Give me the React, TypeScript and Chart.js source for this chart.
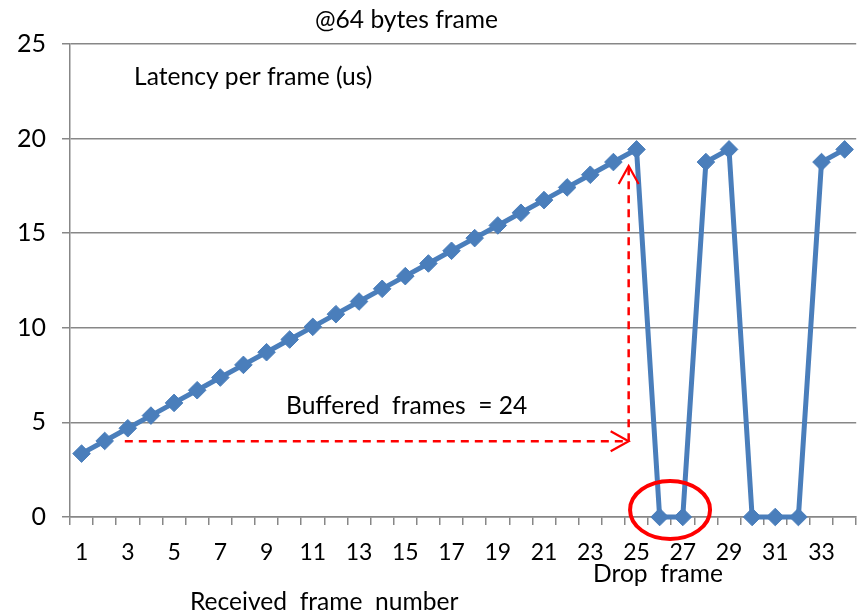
import { useEffect, useRef } from 'react';
import { Chart, registerables } from 'chart.js';

Chart.register(...registerables);

const frameNumbers: number[] = [
  1, 2, 3, 4, 5, 6, 7, 8, 9, 10, 11, 12, 13, 14, 15, 16, 17,
  18, 19, 20, 21, 22, 23, 24, 25, 26, 27, 28, 29, 30, 31, 32, 33, 34,
];
const latencyUs: number[] = [
  3.35, 4.02, 4.69, 5.36, 6.03, 6.7, 7.37, 8.04, 8.71, 9.38, 10.05, 10.72,
  11.39, 12.06, 12.73, 13.4, 14.07, 14.74, 15.41, 16.08, 16.75, 17.42, 18.09,
  18.76, 19.43, 0, 0, 18.76, 19.43, 0, 0, 0, 18.76, 19.43,
];
const yTickValues: number[] = [0, 5, 10, 15, 20, 25];

const chartTitle = '@64 bytes frame';
const yTitle = 'Latency per frame (us)';
const xTitle = 'Received  frame  number';
const bufferedLabel = 'Buffered  frames  = 24';
const dropLabel = 'Drop  frame';

// annotation anchors (in data units)
const arrowStartFrame = 3;
const arrowEndFrame = 24.66;
const arrowLevel = 4.0;
const arrowTopLevel = 18.55;
const dropCircleFrame = 26.45;
const dropCircleLevel = 0.37;

const FONT = 'Lato, "Open Sans", sans-serif';
const GRID = '#878787';
const LINE = '#4A7EBB';

const annotations = {
  id: 'annotations',
  afterDatasetsDraw(chart: any) {
    const ctx = chart.ctx as CanvasRenderingContext2D;
    const xs = chart.scales.x;
    const ys = chart.scales.y;
    const xPix = (f: number) => xs.getPixelForValue(f - 1);
    ctx.save();
    // dashed arrows
    ctx.strokeStyle = '#FF0000';
    ctx.lineWidth = 2.5;
    ctx.setLineDash([8, 6]);
    const x1 = xPix(arrowStartFrame) - 3;
    const x2 = xPix(arrowEndFrame);
    const yH = ys.getPixelForValue(arrowLevel);
    const yTop = ys.getPixelForValue(arrowTopLevel);
    ctx.beginPath();
    ctx.moveTo(x1, yH);
    ctx.lineTo(x2, yH);
    ctx.stroke();
    ctx.beginPath();
    ctx.moveTo(x2, yH);
    ctx.lineTo(x2, yTop);
    ctx.stroke();
    ctx.setLineDash([]);
    ctx.lineWidth = 2.2;
    ctx.beginPath();
    ctx.moveTo(x2 - 18, yH - 10);
    ctx.lineTo(x2, yH);
    ctx.lineTo(x2 - 18, yH + 10);
    ctx.stroke();
    ctx.beginPath();
    ctx.moveTo(x2 - 10, yTop + 18);
    ctx.lineTo(x2, yTop);
    ctx.lineTo(x2 + 10, yTop + 18);
    ctx.stroke();
    // ellipse
    ctx.lineWidth = 4;
    ctx.beginPath();
    ctx.ellipse(xPix(dropCircleFrame), ys.getPixelForValue(dropCircleLevel), 40, 29, 0, 0, Math.PI * 2);
    ctx.stroke();
    // texts
    ctx.fillStyle = '#000';
    ctx.font = `24.6px ${FONT}`;
    ctx.textBaseline = 'alphabetic';
    ctx.textAlign = 'left';
    ctx.fillText(chartTitle, 315, 28);
    ctx.fillText(yTitle, 134, 85);
    ctx.fillText(bufferedLabel, 286, 414);
    ctx.fillText(dropLabel, 593, 582);
    ctx.fillText(xTitle, 190, 610);
    ctx.restore();
  },
};

export default function App() {
  const ref = useRef<HTMLCanvasElement>(null);
  useEffect(() => {
    document.body.style.margin = '0';
    const chart = new Chart(ref.current!, {
      type: 'line',
      data: {
        labels: frameNumbers.map(String),
        datasets: [
          {
            data: latencyUs,
            borderColor: LINE,
            backgroundColor: LINE,
            borderWidth: 5,
            pointStyle: 'rectRot',
            pointRadius: 8.8,
            pointBorderWidth: 1,
            pointBackgroundColor: LINE,
            pointBorderColor: LINE,
            tension: 0,
            clip: false as any,
          },
        ],
      },
      options: {
        responsive: false,
        animation: false,
        layout: { padding: { top: 44, right: 8, left: 0, bottom: 0 } },
        plugins: { legend: { display: false }, tooltip: { enabled: false }, title: { display: false } },
        scales: {
          x: {
            type: 'category',
            offset: true,
            grid: { offset: true, drawOnChartArea: false, drawTicks: true, tickLength: 8, color: GRID, lineWidth: 1.5 },
            border: { color: GRID, width: 1.5 },
            ticks: {
              autoSkip: false,
              maxRotation: 0,
              padding: 14,
              color: '#000',
              font: { family: FONT, size: 23 },
              callback: (_v: any, i: number) => (i % 2 === 0 ? String(frameNumbers[i]) : ''),
            },
            afterFit: (s: any) => { s.height = 97; },
          },
          y: {
            min: 0,
            max: 25,
            afterBuildTicks: (s: any) => { s.ticks = yTickValues.map((v) => ({ value: v })); },
            grid: { color: GRID, lineWidth: 1.5, tickLength: 8, drawTicks: true },
            border: { color: GRID, width: 1.5 },
            ticks: { padding: 16, color: '#000', font: { family: FONT, size: 25 } },
            afterFit: (s: any) => { s.width = 70; },
          },
        },
      },
      plugins: [annotations],
    });
    return () => chart.destroy();
  }, []);
  return <canvas ref={ref} width={866} height={614} style={{ display: 'block' }} />;
}
